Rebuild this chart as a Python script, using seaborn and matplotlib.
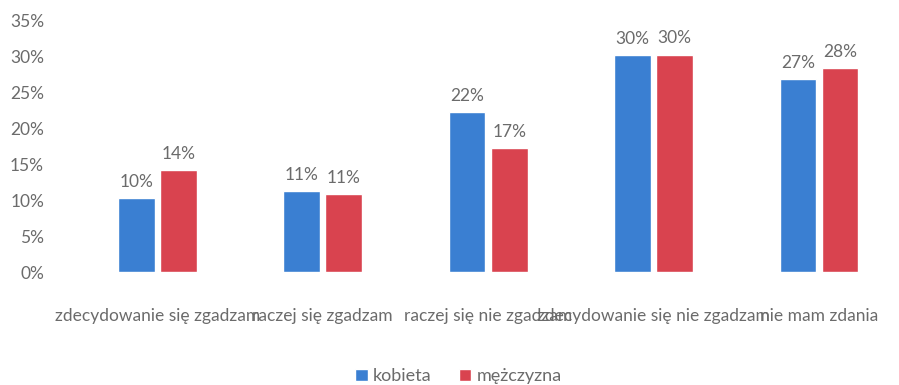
import matplotlib
matplotlib.use("Agg")
import matplotlib.pyplot as plt
import pandas as pd
import seaborn as sns

categories = ["zdecydowanie się zgadzam", "raczej się zgadzam", "raczej się nie zgadzam",
              "zdecydowanie się nie zgadzam", "nie mam zdania"]
kobieta = [0.103, 0.112, 0.222, 0.301, 0.268]
mezczyzna = [0.142, 0.108, 0.172, 0.302, 0.283]
series = ["kobieta", "mężczyzna"]
colors = ["#3a7fd2", "#d9434f"]

df = pd.DataFrame({
    "kategoria": categories * 2,
    "wartosc": kobieta + mezczyzna,
    "plec": [series[0]] * len(categories) + [series[1]] * len(categories),
})

sns.set_style("white")
plt.rcParams["font.family"] = ["Lato", "DejaVu Sans"]
text_color = "#6b6b6b"

fig = plt.figure(figsize=(8.99, 3.85), dpi=100)
ax = fig.add_axes([0.083, 0.293, 0.92, 0.655])
sns.barplot(data=df, x="kategoria", y="wartosc", hue="plec", palette=colors,
            saturation=1, width=0.51, gap=0.13, ax=ax, legend=True)

for cont in ax.containers:
    ax.bar_label(cont, labels=[f"{v*100:.0f}%" for v in cont.datavalues],
                 padding=6, fontsize=12.5, color=text_color)

ax.set_ylim(0, 0.35)
ax.set_yticks([i * 0.05 for i in range(8)])
ax.set_yticklabels([f"{i*5}%" for i in range(8)], fontsize=12.5, color=text_color)
ax.tick_params(axis="y", length=0, pad=22)
ax.tick_params(axis="x", length=0, pad=26, labelsize=12.5, labelcolor=text_color)
ax.set_xlabel("")
ax.set_ylabel("")
for s in ax.spines.values():
    s.set_visible(False)

h, l = ax.get_legend_handles_labels()
ax.legend_.remove()
fig.legend(h, l, loc="lower center", bbox_to_anchor=(0.51, -0.04), ncol=2, frameon=False,
           fontsize=13, labelcolor=text_color, handlelength=0.7, handleheight=0.7,
           handletextpad=0.3, columnspacing=1.5)

fig.savefig("out.png", dpi=100)
